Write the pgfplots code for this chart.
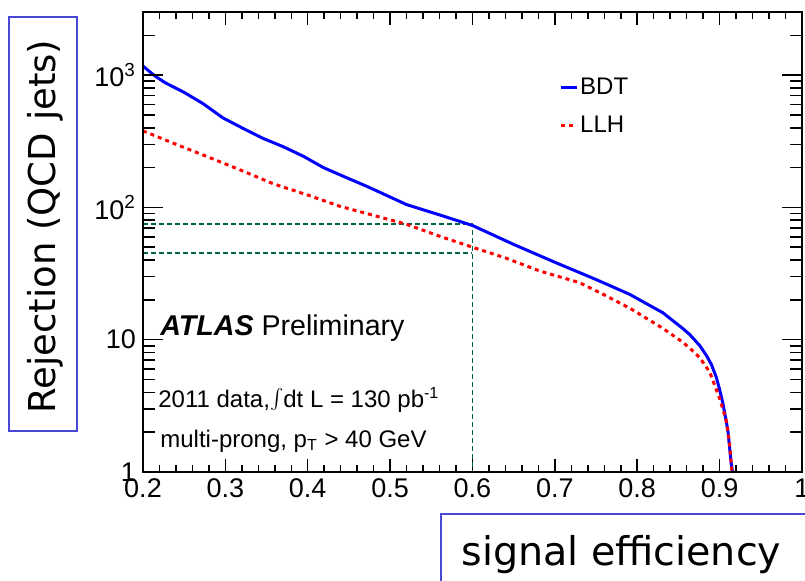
\documentclass[border=0pt]{standalone}
\usepackage{pgfplots}
\pgfplotsset{compat=1.18}
\usepackage{fontspec}
\setmainfont{Liberation Sans}
\newfontfamily\comicfont{DejaVu Sans}
\definecolor{bdtblue}{RGB}{0,0,255}
\definecolor{llhred}{RGB}{255,0,0}
\definecolor{guidegreen}{RGB}{0,100,70}
\definecolor{boxblue}{RGB}{72,72,214}

\pgfplotstableread{
x y
0.200 1170
0.214 990
0.227 875
0.250 740
0.273 608
0.297 475
0.320 400
0.346 332
0.370 288
0.395 243
0.419 200
0.445 170
0.472 144
0.496 123
0.520 105
0.562 87
0.600 73
0.650 52.5
0.700 38.5
0.750 28.5
0.791 22
0.831 16
0.855 12.2
0.864 10.9
0.876 9.0
0.884 7.6
0.890 6.5
0.896 5.2
0.900 4.2
0.904 3.3
0.910 2.07
0.914 1.17
0.9157 1.0
}\bdt

\pgfplotstableread{
x y
0.200 379
0.240 300
0.278 242
0.318 192
0.358 151
0.400 124
0.439 102
0.480 87
0.520 74.5
0.562 60
0.600 50
0.640 41.5
0.682 33
0.730 27
0.760 21.8
0.791 17.3
0.831 12.2
0.855 9.6
0.864 8.6
0.876 7.3
0.888 5.7
0.900 3.6
0.908 2.46
0.912 1.65
0.915 1.0
}\llh

\begin{document}
\begin{tikzpicture}[x=0.5pt,y=0.5pt]
\useasboundingbox (0,0) rectangle (805,580);
\fill[white] (0,0) rectangle (805,580);
% y label box
\draw[boxblue, line width=1pt] (9,149) rectangle (77,563);
\node[rotate=90, anchor=base, inner sep=0pt, font=\comicfont\fontsize{18.5}{20}\selectfont] at (55,353.5) {Rejection (QCD jets)};
% x label box
\draw[boxblue, line width=1pt] (441,66) rectangle (812,-6);
\node[anchor=base west, inner sep=0pt, font=\comicfont\fontsize{19.8}{22}\selectfont] at (461,15) {signal efficiency};

% main axis with x ticks and curves
\begin{axis}[
  at={(71.5pt,54pt)}, anchor=south west,
  scale only axis, width=329.5pt, height=230pt,
  xmin=0.2, xmax=1, ymin=1, ymax=3000, ymode=log,
  xtick={0.2,0.3,0.4,0.5,0.6,0.7,0.8,0.9,1.0},
  xticklabels={0.2,0.3,0.4,0.5,0.6,0.7,0.8,0.9,1},
  minor x tick num=4,
  ytick=\empty, yminorticks=false,
  major tick length=6.5pt, minor tick length=3.5pt,
  tick style={black, line width=0.75pt},
  axis line style={black, line width=1pt},
  tick label style={font=\fontsize{13.5}{16}\selectfont},
  legend style={at={(rel axis cs:0.631,0.8615)}, anchor=north west, draw=none, fill=none,
    inner sep=0pt, row sep=7pt, font=\fontsize{12}{14}\selectfont, nodes={inner sep=1pt}},
  legend cell align=left,
  legend image code/.code={\draw[#1] (0pt,0pt) -- (8pt,0pt);},
]
\addplot[guidegreen, line width=0.8pt, dash pattern=on 2.5pt off 1.5pt, forget plot] coordinates {(0.2,75) (0.6,75) (0.6,1)};
\addplot[guidegreen, line width=0.8pt, dash pattern=on 2.5pt off 1.5pt, forget plot] coordinates {(0.2,45) (0.6,45)};
\addplot[bdtblue, line width=1.5pt, line join=round] table[x=x,y=y] {\bdt};
\addlegendentry{BDT}
\addplot[llhred, line width=1.5pt, dash pattern=on 2pt off 2pt] table[x=x,y=y] {\llh};
\addlegendentry{LLH}
\node[anchor=base west, inner sep=0pt, font=\fontsize{14.3}{16}\selectfont] at (axis cs:0.2206,10.7) {\textbf{\textit{ATLAS}} Preliminary};
\node[anchor=base west, inner sep=0pt, font=\fontsize{12}{14}\selectfont] at (axis cs:0.2182,3.08) {2011 data,\raisebox{-0.5pt}{\fontsize{19}{19}\selectfont$\int$}dt L = 130 pb\textsuperscript{-1}};
\node[anchor=base west, inner sep=0pt, font=\fontsize{12}{14}\selectfont] at (axis cs:0.2206,1.54) {multi-prong, p\textsubscript{T} > 40 GeV};
\end{axis}

% overlay axis for y ticks
\begin{axis}[
  at={(71.5pt,54pt)}, anchor=south west,
  scale only axis, width=329.5pt, height=230pt,
  xmin=0.2, xmax=1, ymin=1, ymax=3000, ymode=log,
  xtick=\empty, xminorticks=false,
  ytick={1,10,100,1000},
  yticklabels={1,10,{10\textsuperscript{2}},{10\textsuperscript{3}}},
  minor ytick={2,3,4,5,6,7,8,9,20,30,40,50,60,70,80,90,200,300,400,500,600,700,800,900,2000,3000},
  major tick length=10pt, minor tick length=6pt,
  tick style={black, line width=0.75pt},
  axis line style={black, line width=1pt},
  tick label style={font=\fontsize{13.5}{16}\selectfont},
]
\end{axis}
\end{tikzpicture}
\end{document}
